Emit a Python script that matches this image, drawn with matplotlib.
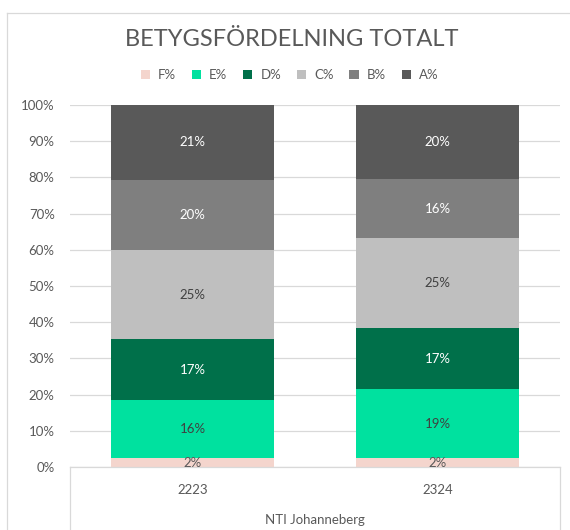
import matplotlib.pyplot as plt
from matplotlib.lines import Line2D
from matplotlib.patches import Patch
import numpy as np

plt.rcParams['font.family'] = ['Lato', 'DejaVu Sans']

years = ['2223', '2324']
school = 'NTI Johanneberg'
grades = ['F%', 'E%', 'D%', 'C%', 'B%', 'A%']
f_pct = [2.4, 2.4]
e_pct = [16.0, 19.2]
d_pct = [16.9, 16.7]
c_pct = [24.6, 24.9]
b_pct = [19.5, 16.4]
a_pct = [20.6, 20.4]

colors = ['#F4D5CD', '#00E19F', '#00704A', '#BFBFBF', '#7F7F7F', '#595959']
label_colors = ['#595959', '#404040', 'white', '#404040', 'white', 'white']
grey = '#595959'
line_grey = '#D9D9D9'

fig = plt.figure(figsize=(5.7, 5.3), dpi=100)
ax = fig.add_axes([70 / 570, 1 - 467 / 530, 490 / 570, 362 / 530])

x = np.arange(len(years))
bottom = np.zeros(len(years))
for name, vals, col, lc in zip(grades, [f_pct, e_pct, d_pct, c_pct, b_pct, a_pct],
                               colors, label_colors):
    vals = np.array(vals)
    ax.bar(x, vals, 0.665, bottom=bottom, color=col, zorder=2)
    for xi, b, v in zip(x, bottom, vals):
        ax.text(xi, b + v / 2, f"{v:.0f}%", ha='center', va='center',
                color=lc, fontsize=9.5, zorder=3)
    bottom += vals

ax.set_xlim(-0.5, 1.5)
ax.set_ylim(0, 100)
ax.set_yticks(np.arange(0, 101, 10))
ax.set_yticklabels([f"{t}%" for t in range(0, 101, 10)])
ax.yaxis.grid(True, color=line_grey, lw=0.9, zorder=0)
ax.tick_params(axis='y', length=0, pad=11, labelsize=9.5, labelcolor=grey)
ax.set_xticks([])
for s in ['top', 'right', 'left']:
    ax.spines[s].set_visible(False)
ax.spines['bottom'].set_color(line_grey)
ax.spines['bottom'].set_linewidth(0.9)

# two level category axis
for xi, yr in zip(x, years):
    ax.text(xi, -6.3, yr, ha='center', va='center', color=grey, fontsize=9.5,
            clip_on=False)
ax.text(0.5, -14.6, school, ha='center', va='center', color=grey, fontsize=9.5,
        clip_on=False)
for xe in [-0.5, 1.5]:
    ax.add_line(Line2D([xe, xe], [0, -20], color=line_grey, lw=0.9, clip_on=False))

# chart border
fig.add_artist(Line2D([7 / 570, 7 / 570], [0, 1 - 13 / 530], color=line_grey,
                      lw=0.9, transform=fig.transFigure))
fig.add_artist(Line2D([7 / 570, 1], [1 - 13 / 530, 1 - 13 / 530], color=line_grey,
                      lw=0.9, transform=fig.transFigure))

fig.text(0.511, 1 - 40 / 530, 'BETYGSFÖRDELNING TOTALT', ha='center', va='center',
         fontsize=17, color=grey)

handles = [Patch(facecolor=c, edgecolor='none') for c in colors]
fig.legend(handles, grades, loc='center', bbox_to_anchor=(0.508, 1 - 75 / 530),
           ncol=6, frameon=False, fontsize=9.5, labelcolor=grey,
           handlelength=0.7, handleheight=0.7, handletextpad=0.6,
           columnspacing=1.2)

fig.savefig('out.png', dpi=100)
